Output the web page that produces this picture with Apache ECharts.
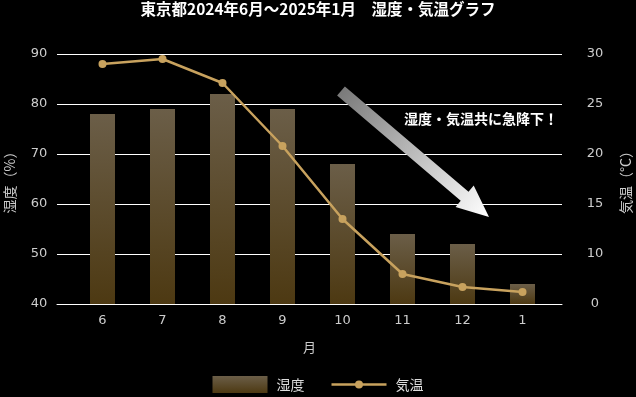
<!DOCTYPE html>
<html>
<head>
<meta charset="utf-8">
<script src="https://cdn.jsdelivr.net/npm/echarts@6/dist/echarts.min.js"></script>
<style>
  html, body { margin: 0; padding: 0; background: #000; }
  #chart { width: 636px; height: 397px; }
</style>
</head>
<body>
<div id="chart"></div>
<script>
// 月（カテゴリ）
const months = ['6', '7', '8', '9', '10', '11', '12', '1'];
// 湿度（%）
const humidity = [78, 79, 82, 79, 68, 54, 52, 44];
// 気温（°C）
const temperature = [29.0, 29.5, 27.1, 20.8, 13.5, 8.0, 6.7, 6.2];
// 右軸の目盛りラベル（下から）
const tempTickLabels = ['0', '10', '15', '20', '25', '30'];

const gridLeft = 57, gridRight = 562;

// 矢印（装飾）
const tail = [341, 91], tip = [489, 217];
const arrowPoints = (() => {
    const dx = tip[0] - tail[0], dy = tip[1] - tail[1];
    const len = Math.sqrt(dx * dx + dy * dy);
    const ux = dx / len, uy = dy / len, nx = -uy, ny = ux;
    const sw = 6, hw = 14, hl = 32;
    const bx = tip[0] - ux * hl, by = tip[1] - uy * hl;
    return [
        [tail[0] + nx * sw, tail[1] + ny * sw],
        [bx + nx * sw, by + ny * sw],
        [bx + nx * hw, by + ny * hw],
        tip,
        [bx - nx * hw, by - ny * hw],
        [bx - nx * sw, by - ny * sw],
        [tail[0] - nx * sw, tail[1] - ny * sw]
    ];
})();

const myChart = echarts.init(document.getElementById('chart'));
const labelFont = 'DejaVu Sans';
const jpFont = '"Noto Sans CJK JP", sans-serif';
// 凡例：線＋丸
const lineIcon = 'path://M0,7.3H55V9.7H0Z M31.5,8.5A4,4,0,1,1,23.5,8.5A4,4,0,1,1,31.5,8.5Z';

const option = {
    backgroundColor: '#000',
    animation: false,
    title: {
        text: '東京都2024年6月～2025年1月　湿度・気温グラフ',
        left: 'center',
        top: 1,
        padding: 0,
        textStyle: { color: '#fff', fontSize: 15.5, fontWeight: 'bold', fontFamily: jpFont }
    },
    legend: {
        top: 376,
        left: 'center',
        padding: 0,
        itemWidth: 55,
        itemHeight: 17,
        itemGap: 27,
        symbolKeepAspect: true,
        textStyle: { color: '#ddd', fontSize: 14, fontFamily: jpFont, padding: [0, 0, 0, 4] },
        data: [
            { name: '湿度', icon: 'rect' },
            { name: '気温', icon: lineIcon }
        ]
    },
    grid: {
        left: gridLeft, right: 636 - gridRight, top: 54, bottom: 397 - 304,
        containLabel: false,
        outerBoundsMode: 'none'
    },
    xAxis: {
        type: 'value',
        min: (gridLeft - 102.5) / 60,
        max: (gridRight - 102.5) / 60,
        name: '月',
        nameLocation: 'middle',
        nameGap: 37,
        nameTextStyle: { color: '#ccc', fontSize: 13, fontFamily: jpFont },
        axisLine: { show: true, lineStyle: { color: '#fff', width: 1 } },
        axisTick: { show: false },
        splitLine: { show: false },
        axisLabel: {
            customValues: months.map((m, i) => i),
            formatter: (v) => months[Math.round(v)],
            color: '#ccc',
            fontSize: 13,
            fontFamily: labelFont,
            margin: 10
        }
    },
    yAxis: [
        {
            type: 'value',
            min: 40,
            max: 90,
            interval: 10,
            name: '湿度（%）',
            nameLocation: 'middle',
            nameRotate: 90,
            nameGap: 40,
            nameTextStyle: { color: '#ccc', fontSize: 14, fontFamily: jpFont },
            axisLine: { show: false },
            axisTick: { show: false },
            splitLine: { lineStyle: { color: '#fff', width: 1 } },
            axisLabel: {
                color: '#ccc', fontSize: 13, fontFamily: labelFont, align: 'center', margin: 18,
                padding: [4, 0, 0, 0]
            }
        },
        {
            type: 'value',
            min: 5,
            max: 30,
            interval: 5,
            name: '気温（°C）',
            nameLocation: 'middle',
            nameRotate: 90,
            nameGap: 57,
            nameTextStyle: { color: '#ccc', fontSize: 14, fontFamily: jpFont },
            axisLine: { show: false },
            axisTick: { show: false },
            splitLine: { show: false },
            axisLabel: {
                color: '#ccc', fontSize: 13, fontFamily: labelFont, align: 'center', margin: 33,
                padding: [4, 0, 0, 0],
                formatter: (v) => tempTickLabels[Math.round((v - 5) / 5)]
            }
        }
    ],
    graphic: [
        {
            type: 'polygon',
            shape: { points: arrowPoints },
            style: {
                fill: new echarts.graphic.LinearGradient(tail[0], tail[1], tip[0], tip[1], [
                    { offset: 0, color: '#7a7a7a' },
                    { offset: 1, color: '#ffffff' }
                ], true)
            },
            z: 10
        },
        {
            type: 'text',
            left: 404,
            top: 112,
            style: {
                text: '湿度・気温共に急降下！',
                fill: '#fff',
                font: 'bold 14px "Noto Sans CJK JP"',
                textShadowColor: '#000',
                textShadowBlur: 3
            },
            z: 11
        }
    ],
    series: [
        {
            name: '湿度',
            type: 'bar',
            yAxisIndex: 0,
            barWidth: 25,
            data: humidity.map((v, i) => [i, v]),
            itemStyle: {
                color: new echarts.graphic.LinearGradient(0, 0, 0, 1, [
                    { offset: 0, color: '#6b5e48' },
                    { offset: 1, color: '#4d3912' }
                ])
            }
        },
        {
            name: '気温',
            type: 'line',
            yAxisIndex: 1,
            data: temperature.map((v, i) => [i, v]),
            symbol: 'circle',
            symbolSize: 8,
            lineStyle: { color: '#c8a25e', width: 2.5 },
            itemStyle: { color: '#c8a25e' },
            z: 5
        }
    ]
};
option && myChart.setOption(option);
</script>
</body>
</html>
